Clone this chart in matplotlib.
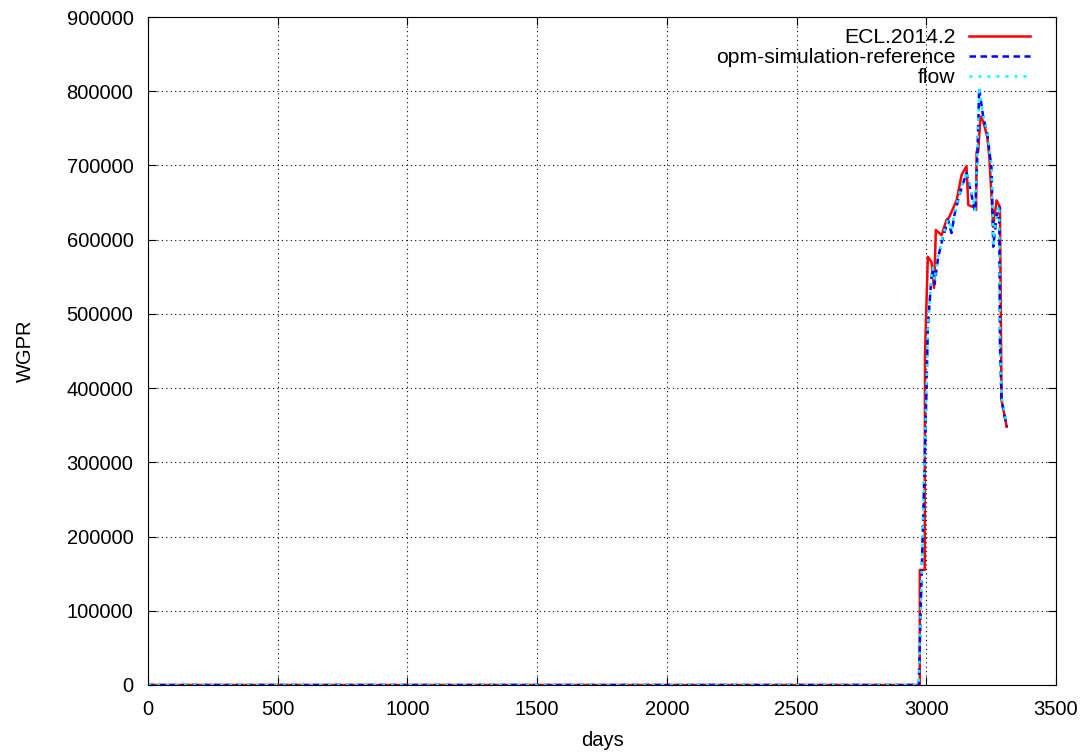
import matplotlib
matplotlib.use('Agg')
from matplotlib import pyplot as plt

plt.rcParams['font.family'] = ['Liberation Sans', 'DejaVu Sans']

# ECL.2014.2 (red)
ecl_days = [0, 2975, 2975, 2994, 2995, 3006, 3020, 3030, 3037, 3059, 3078, 3088, 3117,
            3136, 3155, 3162, 3181, 3192, 3194, 3200, 3209, 3219, 3235, 3243, 3258,
            3271, 3284, 3290, 3310]
ecl_wgpr = [0, 0, 155000, 155000, 445000, 577000, 570000, 535000, 613000, 606000, 626600,
            630000, 653000, 687000, 699000, 646700, 644000, 640000, 718500, 718500, 765700,
            760000, 738700, 711800, 617400, 653000, 644000, 384000, 348000]

# opm-simulation-reference (blue)
ref_days = [0, 2971, 3001, 3006, 3020, 3025, 3032, 3046, 3065, 3084, 3097, 3110, 3130,
            3155, 3168, 3188, 3196, 3204, 3219, 3235, 3252, 3258, 3271, 3281, 3284,
            3290, 3310]
ref_wgpr = [0, 0, 400000, 483000, 550000, 560000, 540000, 577000, 604000, 626500, 609000,
            636000, 663000, 690000, 671000, 637700, 703000, 804000, 766000, 743000, 694000,
            590500, 631000, 644000, 460000, 384000, 348000]

# flow (cyan)
flow_days = [0, 2971, 3001, 3006, 3020, 3025, 3032, 3046, 3065, 3084, 3097, 3110, 3130,
             3155, 3168, 3188, 3196, 3204, 3219, 3235, 3252, 3258, 3271, 3281, 3284,
             3290, 3310]
flow_wgpr = [0, 0, 405000, 485000, 552000, 562000, 545000, 580000, 606000, 628000, 612000,
             638000, 665000, 692000, 674000, 640000, 706000, 806000, 768000, 745000, 697000,
             595000, 635000, 646000, 465000, 390000, 350000]

fs = 14.5

fig = plt.figure(figsize=(10.87, 7.56), dpi=100)
ax = fig.add_axes([148 / 1087, 1 - 685 / 756, (1056 - 148) / 1087, (685 - 17) / 756])

ax.plot(ecl_days, ecl_wgpr, color='#ff0000', lw=1.8, label='ECL.2014.2')
ax.plot(ref_days, ref_wgpr, color='#0000ff', lw=1.8, ls=(0, (2.6, 1.8)), label='opm-simulation-reference')
ax.plot(flow_days, flow_wgpr, color='#00ffff', lw=1.8, ls=(0, (1.2, 2.4)), label='flow')

ax.set_xlim(0, 3500)
ax.set_ylim(0, 900000)
ax.set_xticks(range(0, 3501, 500))
ax.set_yticks(range(0, 900001, 100000))
ax.tick_params(direction='in', top=True, right=True, labelsize=fs, length=6, pad=10.5)
ax.grid(True, color='black', ls=(0, (1, 3)), lw=0.8)
ax.set_xlabel('days', fontsize=fs, labelpad=9)
ax.set_ylabel('WGPR', fontsize=fs, labelpad=23)

leg = ax.legend(loc='upper right', frameon=False, fontsize=15.2, markerfirst=False,
                handlelength=2.9, handletextpad=0.62, labelspacing=0.05,
                borderpad=0, borderaxespad=0,
                bbox_to_anchor=(1030 / 1087, 1 - 28 / 756), bbox_transform=fig.transFigure)
for t in leg.get_texts():
    t.set_ha('right')

fig.savefig('out.png', dpi=100)
